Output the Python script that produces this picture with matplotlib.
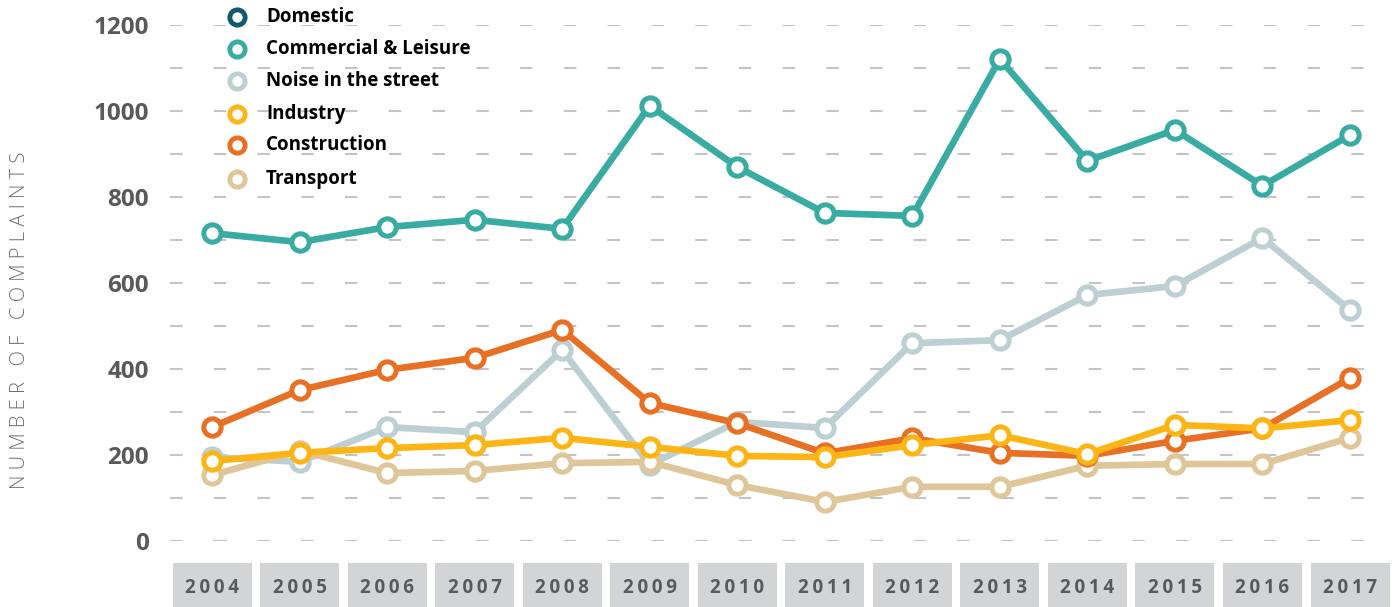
import matplotlib
matplotlib.use("Agg")
import matplotlib.pyplot as plt
from matplotlib.lines import Line2D
from matplotlib.patches import Rectangle
import matplotlib.transforms as mtransforms

years = ["2004", "2005", "2006", "2007", "2008", "2009", "2010",
         "2011", "2012", "2013", "2014", "2015", "2016", "2017"]

commercial = [716, 695, 730, 747, 726, 1012, 870, 763, 756, 1121, 884, 956, 826, 944]
noise = [195, 184, 265, 253, 444, 177, 277, 263, 460, 467, 572, 593, 705, 537]
industry = [186, 205, 216, 223, 240, 219, 198, 195, 223, 246, 202, 270, 262, 281]
construction = [265, 351, 398, 426, 491, 321, 274, 204, 239, 205, 198, 233, 262, 379]
transport = [153, 210, 158, 163, 181, 184, 130, 91, 126, 126, 175, 179, 179, 240]

legend_labels = ["Domestic", "Commercial & Leisure", "Noise in the street",
                 "Industry", "Construction", "Transport"]
legend_colors = ["#0e5a6a", "#38aba2", "#bccfd3", "#fdb515", "#e87024", "#dfc699"]

yticks = [0, 200, 400, 600, 800, 1000, 1200]
ylabel = "N U M B E R   O F   C O M P L A I N T S"

plt.rcParams['font.family'] = ['Open Sans', 'DejaVu Sans']

fig = plt.figure(figsize=(14, 6.07), dpi=100)
W, H = 1400, 607
ax = fig.add_axes([170 / W, (H - 541) / H, 1220 / W, 516 / H])

x = list(range(len(years)))
sp = (1350 - 212) / 13.0
ax.set_xlim(-(212 - 170) / sp, 13 + (1390 - 1350) / sp)
ax.set_ylim(0, 1200)

# gridlines
for v in range(0, 1201, 100):
    ax.axhline(v, color="#c4c4c4", lw=1.5, dashes=(6, 15), zorder=0)

series = [
    (noise, legend_colors[2]),
    (transport, legend_colors[5]),
    (construction, legend_colors[4]),
    (industry, legend_colors[3]),
    (commercial, legend_colors[1]),
]
for i, (vals, col) in enumerate(series):
    ax.plot(x, vals, color=col, lw=4.8, marker='o', markersize=12.5,
            markerfacecolor='white', markeredgecolor=col, markeredgewidth=3.6,
            zorder=2 + i, clip_on=False, solid_joinstyle='round')

for s in ax.spines.values():
    s.set_visible(False)
ax.set_xticks([])
ax.set_yticks(yticks)
ax.set_yticklabels([str(v) for v in yticks], fontsize=17.5, fontweight='bold', color="#58595b")
ax.tick_params(axis='y', length=0, pad=15)

# x labels in gray boxes
trans = mtransforms.blended_transform_factory(ax.transData, ax.transAxes)
y0 = (541 - 607) / 516.0
y1 = (541 - 563) / 516.0
bw = 79 / sp
for xi, lab in zip(x, years):
    ax.add_patch(Rectangle((xi - bw / 2, y0), bw, y1 - y0, transform=trans,
                           facecolor="#d3d4d6", edgecolor='none', clip_on=False))
    ax.text(xi, (y0 + y1) / 2 - 0.006, "\u2009".join(lab), transform=trans, ha='center', va='center',
            fontsize=13.5, fontweight='bold', color="#58595b", clip_on=False)

fig.text(20 / W, 1 - 320 / H, ylabel, rotation=90, ha='center', va='center',
         fontsize=14.5, fontweight='light', color="#6d6e71")

# legend
leg_y = [17, 49, 81, 114, 145, 179]
for lab, col, yy in zip(legend_labels, legend_colors, leg_y):
    fig.add_artist(Line2D([237 / W], [1 - yy / H], transform=fig.transFigure,
                          marker='o', markersize=11, markerfacecolor='white',
                          markeredgecolor=col, markeredgewidth=3.5, linestyle='none'))
    fig.text(266 / W, 1 - yy / H, lab, ha='left', va='center', fontsize=13.5,
             fontweight='bold', color='black')

fig.savefig("out.png", dpi=100)
